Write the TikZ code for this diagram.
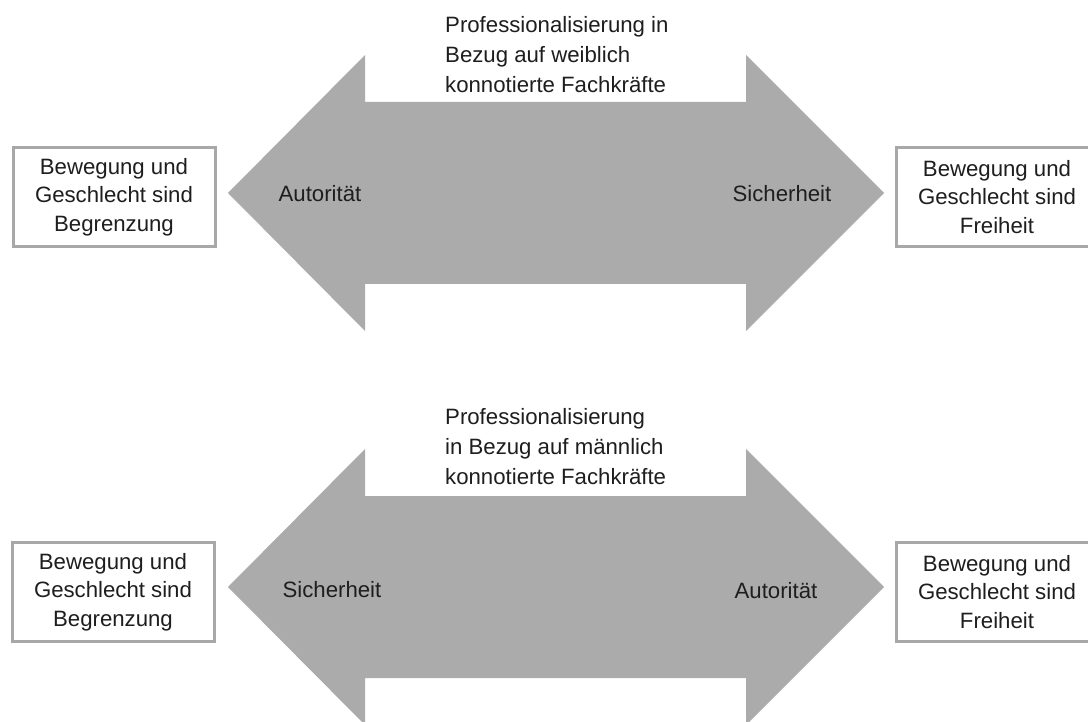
\documentclass[tikz,border=0pt]{standalone}
\usepackage{fontspec}
\setmainfont{Liberation Sans}
\definecolor{arrowgray}{HTML}{ABABAB}
\definecolor{framegray}{HTML}{A8A8A8}
\definecolor{inkgray}{HTML}{1E1E1E}
\begin{document}
\begin{tikzpicture}[x=1pt,y=-1pt,
  every node/.style={text=inkgray,font=\fontsize{22.2}{28.5}\selectfont,inner sep=0pt},
  bigarrow/.style={fill=arrowgray,draw=none},
  statebox/.style={draw=framegray,line width=3pt,fill=white,align=center,
    minimum width=202pt,minimum height=99pt},
  heading/.style={align=left,anchor=north west,font=\fontsize{22.2}{30}\selectfont},
  pole/.style={anchor=center}]
\useasboundingbox (0,0) rectangle (1088,722);
\fill[white] (0,0) rectangle (1088,722);

% upper double arrow
\path[bigarrow] (228,193) -- (365,55) -- (365,102) -- (746,102) -- (746,55)
  -- (884,193) -- (746,331) -- (746,284) -- (365,284) -- (365,331) -- cycle;
% lower double arrow
\path[bigarrow] (228,587) -- (365,449) -- (365,496) -- (746,496) -- (746,449)
  -- (884,587) -- (746,725) -- (746,678) -- (365,678) -- (365,725) -- cycle;

% upper row
\node[heading] (titleA) at (445,16.5) {Professionalisierung in\\Bezug auf weiblich\\konnotierte Fachkräfte};
\node[statebox] (limitA) at (114,197) {Bewegung und\\Geschlecht sind\\Begrenzung};
\node[statebox] (freeA) at (997,197) {Bewegung und\\Geschlecht sind\\Freiheit};
\node[pole] (authA) at (320,194) {Autorität};
\node[pole] (safeA) at (782,194) {Sicherheit};

% lower row
\node[heading] (titleB) at (445,408.5) {Professionalisierung\\in Bezug auf männlich\\konnotierte Fachkräfte};
\node[statebox] (limitB) at (113,592) {Bewegung und\\Geschlecht sind\\Begrenzung};
\node[statebox] (freeB) at (997,592) {Bewegung und\\Geschlecht sind\\Freiheit};
\node[pole] (safeB) at (332,590) {Sicherheit};
\node[pole] (authB) at (776,591) {Autorität};
\end{tikzpicture}
\end{document}
